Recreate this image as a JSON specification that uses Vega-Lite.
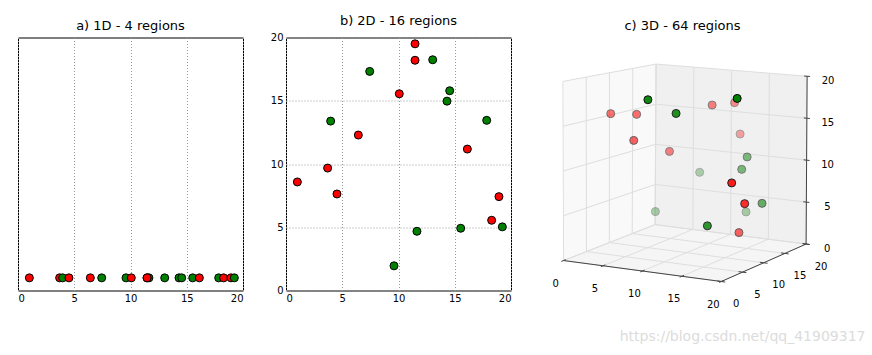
{
"$schema": "https://vega.github.io/schema/vega-lite/v6.json",
"padding": {"left": 17, "top": 13.5, "right": 0, "bottom": 0},
"spacing": 25,
"title": {"text": "https://blog.csdn.net/qq_41909317", "orient": "bottom", "anchor": "end", "fontSize": 14, "color": "#dcdcdc", "offset": 20, "dx": 31, "font": "DejaVu Sans", "fontWeight": "normal"},
"config": {
  "font": "DejaVu Sans",
  "view": {"stroke": "black", "strokeWidth": 1},
  "axis": {"labelFont": "DejaVu Sans", "labelFontSize": 10, "labelColor": "black", "ticks": false, "domain": false, "grid": true, "gridColor": "#999999", "gridDash": [1, 2], "gridWidth": 1, "labelPadding": 3},
  "title": {"font": "DejaVu Sans", "fontSize": 13, "fontWeight": "normal", "color": "black", "offset": 5}
},
"datasets": {
  "pts": [
    {"x": 1.01, "y": 8.58, "z": 15.45, "c": "r"},
    {"x": 3.70, "y": 9.68, "z": 15.45, "c": "r"},
    {"x": 3.97, "y": 13.39, "z": 3.43, "c": "g"},
    {"x": 4.53, "y": 7.63, "z": 12.78, "c": "r"},
    {"x": 6.43, "y": 12.29, "z": 10.99, "c": "r"},
    {"x": 7.44, "y": 17.32, "z": 7.77, "c": "g"},
    {"x": 9.60, "y": 1.95, "z": 18.47, "c": "g"},
    {"x": 10.07, "y": 15.55, "z": 16.33, "c": "r"},
    {"x": 11.64, "y": 4.68, "z": 16.8, "c": "g"},
    {"x": 11.47, "y": 19.5, "z": 12.43, "c": "r"},
    {"x": 11.47, "y": 18.2, "z": 16.39, "c": "r"},
    {"x": 13.04, "y": 18.24, "z": 3.43, "c": "g"},
    {"x": 14.31, "y": 14.97, "z": 9.2, "c": "g"},
    {"x": 14.55, "y": 15.79, "z": 10.55, "c": "g"},
    {"x": 15.53, "y": 4.92, "z": 4.63, "c": "g"},
    {"x": 16.12, "y": 11.18, "z": 2.75, "c": "r"},
    {"x": 17.84, "y": 13.45, "z": 5.86, "c": "g"},
    {"x": 18.28, "y": 5.55, "z": 9.54, "c": "r"},
    {"x": 18.93, "y": 7.42, "z": 7.0, "c": "r"},
    {"x": 19.23, "y": 5.03, "z": 18.99, "c": "g"}
  ],
  "box": [
    {"k": "pL", "x1": 0, "y1": 0, "z1": 0, "x2": 0, "y2": 0, "z2": 20},
    {"k": "pL", "x1": 0, "y1": 20, "z1": 0, "x2": 0, "y2": 20, "z2": 20},
    {"k": "pB", "x1": 0, "y1": 20, "z1": 0, "x2": 0, "y2": 20, "z2": 20},
    {"k": "pB", "x1": 20, "y1": 20, "z1": 0, "x2": 20, "y2": 20, "z2": 20},
    {"k": "pF", "x1": 0, "y1": 0, "z1": 0, "x2": 0, "y2": 0, "z2": 0},
    {"k": "pF", "x1": 11.6, "y1": 0, "z1": 0, "x2": 0, "y2": 20, "z2": 0},
    {"k": "pF", "x1": 20, "y1": 0, "z1": 0, "x2": 8.77, "y2": 20, "z2": 0},
    {"k": "pF", "x1": 20, "y1": 20, "z1": 0, "x2": 20, "y2": 20, "z2": 0},

    {"k": "g", "x1": 0, "y1": 0, "z1": 0, "x2": 0, "y2": 20, "z2": 0},
    {"k": "g", "x1": 5, "y1": 0, "z1": 0, "x2": 5, "y2": 20, "z2": 0},
    {"k": "g", "x1": 10, "y1": 0, "z1": 0, "x2": 10, "y2": 20, "z2": 0},
    {"k": "g", "x1": 15, "y1": 0, "z1": 0, "x2": 15, "y2": 20, "z2": 0},
    {"k": "g", "x1": 20, "y1": 0, "z1": 0, "x2": 20, "y2": 20, "z2": 0},
    {"k": "g", "x1": 0, "y1": 20, "z1": 0, "x2": 0, "y2": 20, "z2": 20},
    {"k": "g", "x1": 5, "y1": 20, "z1": 0, "x2": 5, "y2": 20, "z2": 20},
    {"k": "g", "x1": 10, "y1": 20, "z1": 0, "x2": 10, "y2": 20, "z2": 20},
    {"k": "g", "x1": 15, "y1": 20, "z1": 0, "x2": 15, "y2": 20, "z2": 20},
    {"k": "g", "x1": 20, "y1": 20, "z1": 0, "x2": 20, "y2": 20, "z2": 20},
    {"k": "g", "x1": 0, "y1": 0, "z1": 0, "x2": 20, "y2": 0, "z2": 0},
    {"k": "g", "x1": 0, "y1": 5, "z1": 0, "x2": 20, "y2": 5, "z2": 0},
    {"k": "g", "x1": 0, "y1": 10, "z1": 0, "x2": 20, "y2": 10, "z2": 0},
    {"k": "g", "x1": 0, "y1": 15, "z1": 0, "x2": 20, "y2": 15, "z2": 0},
    {"k": "g", "x1": 0, "y1": 20, "z1": 0, "x2": 20, "y2": 20, "z2": 0},
    {"k": "g", "x1": 0, "y1": 0, "z1": 0, "x2": 0, "y2": 0, "z2": 20},
    {"k": "g", "x1": 0, "y1": 5, "z1": 0, "x2": 0, "y2": 5, "z2": 20},
    {"k": "g", "x1": 0, "y1": 10, "z1": 0, "x2": 0, "y2": 10, "z2": 20},
    {"k": "g", "x1": 0, "y1": 15, "z1": 0, "x2": 0, "y2": 15, "z2": 20},
    {"k": "g", "x1": 0, "y1": 20, "z1": 0, "x2": 0, "y2": 20, "z2": 20},
    {"k": "g", "x1": 0, "y1": 0, "z1": 0, "x2": 0, "y2": 20, "z2": 0},
    {"k": "g", "x1": 0, "y1": 0, "z1": 5, "x2": 0, "y2": 20, "z2": 5},
    {"k": "g", "x1": 0, "y1": 0, "z1": 10, "x2": 0, "y2": 20, "z2": 10},
    {"k": "g", "x1": 0, "y1": 0, "z1": 15, "x2": 0, "y2": 20, "z2": 15},
    {"k": "g", "x1": 0, "y1": 0, "z1": 20, "x2": 0, "y2": 20, "z2": 20},
    {"k": "g", "x1": 0, "y1": 20, "z1": 0, "x2": 20, "y2": 20, "z2": 0},
    {"k": "g", "x1": 0, "y1": 20, "z1": 5, "x2": 20, "y2": 20, "z2": 5},
    {"k": "g", "x1": 0, "y1": 20, "z1": 10, "x2": 20, "y2": 20, "z2": 10},
    {"k": "g", "x1": 0, "y1": 20, "z1": 15, "x2": 20, "y2": 20, "z2": 15},
    {"k": "g", "x1": 0, "y1": 20, "z1": 20, "x2": 20, "y2": 20, "z2": 20},

    {"k": "a", "x1": 0, "y1": 0, "z1": 0, "x2": 20, "y2": 0, "z2": 0},
    {"k": "a", "x1": 20, "y1": 0, "z1": 0, "x2": 20, "y2": 20, "z2": 0},
    {"k": "a", "x1": 20, "y1": 20, "z1": 0, "x2": 20, "y2": 20, "z2": 20},
    {"k": "a", "x1": 0, "y1": -0.5, "z1": 0, "x2": 0, "y2": 0.5, "z2": 0},
    {"k": "a", "x1": 5, "y1": -0.5, "z1": 0, "x2": 5, "y2": 0.5, "z2": 0},
    {"k": "a", "x1": 10, "y1": -0.5, "z1": 0, "x2": 10, "y2": 0.5, "z2": 0},
    {"k": "a", "x1": 15, "y1": -0.5, "z1": 0, "x2": 15, "y2": 0.5, "z2": 0},
    {"k": "a", "x1": 20, "y1": -0.5, "z1": 0, "x2": 20, "y2": 0.5, "z2": 0},
    {"k": "a", "x1": 19.5, "y1": 0, "z1": 0, "x2": 20.5, "y2": 0, "z2": 0},
    {"k": "a", "x1": 19.5, "y1": 5, "z1": 0, "x2": 20.5, "y2": 5, "z2": 0},
    {"k": "a", "x1": 19.5, "y1": 10, "z1": 0, "x2": 20.5, "y2": 10, "z2": 0},
    {"k": "a", "x1": 19.5, "y1": 15, "z1": 0, "x2": 20.5, "y2": 15, "z2": 0},
    {"k": "a", "x1": 19.5, "y1": 20, "z1": 0, "x2": 20.5, "y2": 20, "z2": 0},
    {"k": "a", "x1": 19.6, "y1": 20, "z1": 0, "x2": 20.4, "y2": 20, "z2": 0},
    {"k": "a", "x1": 19.6, "y1": 20, "z1": 5, "x2": 20.4, "y2": 20, "z2": 5},
    {"k": "a", "x1": 19.6, "y1": 20, "z1": 10, "x2": 20.4, "y2": 20, "z2": 10},
    {"k": "a", "x1": 19.6, "y1": 20, "z1": 15, "x2": 20.4, "y2": 20, "z2": 15},
    {"k": "a", "x1": 19.6, "y1": 20, "z1": 20, "x2": 20.4, "y2": 20, "z2": 20},

    {"k": "lx", "t": "0", "x1": 0, "y1": 0, "z1": 0},
    {"k": "lx", "t": "5", "x1": 5, "y1": 0, "z1": 0},
    {"k": "lx", "t": "10", "x1": 10, "y1": 0, "z1": 0},
    {"k": "lx", "t": "15", "x1": 15, "y1": 0, "z1": 0},
    {"k": "lx", "t": "20", "x1": 20, "y1": 0, "z1": 0},
    {"k": "ly", "t": "0", "x1": 20, "y1": 0, "z1": 0},
    {"k": "ly", "t": "5", "x1": 20, "y1": 5, "z1": 0},
    {"k": "ly", "t": "10", "x1": 20, "y1": 10, "z1": 0},
    {"k": "ly", "t": "15", "x1": 20, "y1": 15, "z1": 0},
    {"k": "ly", "t": "20", "x1": 20, "y1": 20, "z1": 0},
    {"k": "lz", "t": "0", "x1": 20, "y1": 20, "z1": 0},
    {"k": "lz", "t": "5", "x1": 20, "y1": 20, "z1": 5},
    {"k": "lz", "t": "10", "x1": 20, "y1": 20, "z1": 10},
    {"k": "lz", "t": "15", "x1": 20, "y1": 20, "z1": 15},
    {"k": "lz", "t": "20", "x1": 20, "y1": 20, "z1": 20}
  ]
},
"hconcat": [
  {
    "width": 225, "height": 253,
    "title": "a) 1D - 4 regions",
    "data": {"name": "pts"},
    "mark": {"type": "circle", "size": 64, "stroke": "black", "strokeWidth": 1, "opacity": 1},
    "encoding": {
      "x": {"field": "x", "type": "quantitative", "scale": {"domain": [0, 20], "nice": false, "zero": false}, "axis": {"values": [0, 5, 10, 15, 20], "title": null}},
      "y": {"datum": 1, "type": "quantitative", "scale": {"domain": [0, 20], "nice": false}, "axis": null},
      "color": {"field": "c", "type": "nominal", "scale": {"domain": ["r", "g"], "range": ["#ff0000", "#008000"]}, "legend": null}
    }
  },
  {
    "width": 225, "height": 253,
    "title": "b) 2D - 16 regions",
    "data": {"name": "pts"},
    "mark": {"type": "circle", "size": 64, "stroke": "black", "strokeWidth": 1, "opacity": 1},
    "encoding": {
      "x": {"field": "x", "type": "quantitative", "scale": {"domain": [0, 20], "nice": false, "zero": false}, "axis": {"values": [0, 5, 10, 15, 20], "title": null}},
      "y": {"field": "y", "type": "quantitative", "scale": {"domain": [0, 20], "nice": false, "zero": false}, "axis": {"values": [0, 5, 10, 15, 20], "title": null}},
      "color": {"field": "c", "type": "nominal", "scale": {"domain": ["r", "g"], "range": ["#ff0000", "#008000"]}, "legend": null}
    }
  },
  {
    "width": 291, "height": 253,
    "title": "c) 3D - 64 regions",
    "view": {"stroke": null},
    "layer": [
      {
        "data": {"name": "box"},
        "transform": [
          {"filter": "indexof(datum.k, 'p') == 0"},
          {"calculate": "564+7.885*datum.x1+4.575*datum.y1-0.01675*datum.x1*datum.y1+datum.z1/20*(-0.7+0.06*datum.x1+0.085*datum.y1-0.003*datum.x1*datum.y1)", "as": "u1"},
          {"calculate": "261+1.05*datum.x1-1.8*datum.y1-0.00375*datum.x1*datum.y1+datum.z1/20*(-179.3-0.41*datum.x1+0.93*datum.y1+0.00225*datum.x1*datum.y1)", "as": "v1"},
          {"calculate": "261+1.05*datum.x2-1.8*datum.y2-0.00375*datum.x2*datum.y2+datum.z2/20*(-179.3-0.41*datum.x2+0.93*datum.y2+0.00225*datum.x2*datum.y2)", "as": "v2"}
        ],
        "mark": {"type": "area", "orient": "vertical", "strokeWidth": 0},
        "encoding": {
          "x": {"field": "u1", "type": "quantitative", "scale": {"domain": [537.4, 828.4], "nice": false, "zero": false}, "axis": null},
          "y": {"field": "v1", "type": "quantitative", "stack": null, "scale": {"domain": [37.7, 291], "nice": false, "zero": false, "reverse": true}, "axis": null},
          "y2": {"field": "v2"},
          "fill": {"field": "k", "type": "nominal", "scale": {"domain": ["pL", "pB", "pF"], "range": ["#f9f9f9", "#f0f0f0", "#f5f5f5"]}, "legend": null}
        }
      },
      {
        "data": {"name": "box"},
        "transform": [
          {"filter": "datum.k == 'g'"},
          {"calculate": "564+7.885*datum.x1+4.575*datum.y1-0.01675*datum.x1*datum.y1+datum.z1/20*(-0.7+0.06*datum.x1+0.085*datum.y1-0.003*datum.x1*datum.y1)", "as": "u1"},
          {"calculate": "261+1.05*datum.x1-1.8*datum.y1-0.00375*datum.x1*datum.y1+datum.z1/20*(-179.3-0.41*datum.x1+0.93*datum.y1+0.00225*datum.x1*datum.y1)", "as": "v1"},
          {"calculate": "564+7.885*datum.x2+4.575*datum.y2-0.01675*datum.x2*datum.y2+datum.z2/20*(-0.7+0.06*datum.x2+0.085*datum.y2-0.003*datum.x2*datum.y2)", "as": "u2"},
          {"calculate": "261+1.05*datum.x2-1.8*datum.y2-0.00375*datum.x2*datum.y2+datum.z2/20*(-179.3-0.41*datum.x2+0.93*datum.y2+0.00225*datum.x2*datum.y2)", "as": "v2"}
        ],
        "mark": {"type": "rule", "color": "#dedede", "strokeWidth": 1},
        "encoding": {
          "x": {"field": "u1", "type": "quantitative", "scale": {"domain": [537.4, 828.4], "nice": false, "zero": false}, "axis": null},
          "y": {"field": "v1", "type": "quantitative", "scale": {"domain": [37.7, 291], "nice": false, "zero": false, "reverse": true}, "axis": null},
          "x2": {"field": "u2"},
          "y2": {"field": "v2"}
        }
      },
      {
        "data": {"name": "box"},
        "transform": [
          {"filter": "datum.k == 'a'"},
          {"calculate": "564+7.885*datum.x1+4.575*datum.y1-0.01675*datum.x1*datum.y1+datum.z1/20*(-0.7+0.06*datum.x1+0.085*datum.y1-0.003*datum.x1*datum.y1)", "as": "u1"},
          {"calculate": "261+1.05*datum.x1-1.8*datum.y1-0.00375*datum.x1*datum.y1+datum.z1/20*(-179.3-0.41*datum.x1+0.93*datum.y1+0.00225*datum.x1*datum.y1)", "as": "v1"},
          {"calculate": "564+7.885*datum.x2+4.575*datum.y2-0.01675*datum.x2*datum.y2+datum.z2/20*(-0.7+0.06*datum.x2+0.085*datum.y2-0.003*datum.x2*datum.y2)", "as": "u2"},
          {"calculate": "261+1.05*datum.x2-1.8*datum.y2-0.00375*datum.x2*datum.y2+datum.z2/20*(-179.3-0.41*datum.x2+0.93*datum.y2+0.00225*datum.x2*datum.y2)", "as": "v2"}
        ],
        "mark": {"type": "rule", "color": "#444444", "strokeWidth": 1},
        "encoding": {
          "x": {"field": "u1", "type": "quantitative", "scale": {"domain": [537.4, 828.4], "nice": false, "zero": false}, "axis": null},
          "y": {"field": "v1", "type": "quantitative", "scale": {"domain": [37.7, 291], "nice": false, "zero": false, "reverse": true}, "axis": null},
          "x2": {"field": "u2"},
          "y2": {"field": "v2"}
        }
      },
      {
        "data": {"name": "pts"},
        "transform": [
          {"calculate": "564+7.885*datum.x+4.575*datum.y-0.01675*datum.x*datum.y+datum.z/20*(-0.7+0.06*datum.x+0.085*datum.y-0.003*datum.x*datum.y)", "as": "u"},
          {"calculate": "261+1.05*datum.x-1.8*datum.y-0.00375*datum.x*datum.y+datum.z/20*(-179.3-0.41*datum.x+0.93*datum.y+0.00225*datum.x*datum.y)", "as": "v"},
          {"calculate": "0.455*datum.x-0.857*datum.y+0.242*datum.z", "as": "near"}
        ],
        "mark": {"type": "circle", "size": 64, "stroke": "black", "strokeWidth": 1},
        "encoding": {
          "x": {"field": "u", "type": "quantitative", "scale": {"domain": [537.4, 828.4], "nice": false, "zero": false}, "axis": null},
          "y": {"field": "v", "type": "quantitative", "scale": {"domain": [37.7, 291], "nice": false, "zero": false, "reverse": true}, "axis": null},
          "color": {"field": "c", "type": "nominal", "scale": {"domain": ["r", "g"], "range": ["#ff0000", "#008000"]}, "legend": null},
          "opacity": {"field": "near", "type": "quantitative", "scale": {"range": [0.3, 1], "zero": false, "nice": false}, "legend": null}
        }
      },
      {
        "data": {"name": "box"},
        "transform": [
          {"filter": "datum.k == 'lx'"},
          {"calculate": "564+7.885*datum.x1+4.575*datum.y1-0.01675*datum.x1*datum.y1+datum.z1/20*(-0.7+0.06*datum.x1+0.085*datum.y1-0.003*datum.x1*datum.y1)", "as": "u1"},
          {"calculate": "261+1.05*datum.x1-1.8*datum.y1-0.00375*datum.x1*datum.y1+datum.z1/20*(-179.3-0.41*datum.x1+0.93*datum.y1+0.00225*datum.x1*datum.y1)", "as": "v1"}
        ],
        "mark": {"type": "text", "fontSize": 10, "font": "DejaVu Sans", "color": "black", "dx": -8, "dy": 23, "baseline": "middle", "align": "center"},
        "encoding": {
          "x": {"field": "u1", "type": "quantitative", "scale": {"domain": [537.4, 828.4], "nice": false, "zero": false}, "axis": null},
          "y": {"field": "v1", "type": "quantitative", "scale": {"domain": [37.7, 291], "nice": false, "zero": false, "reverse": true}, "axis": null},
          "text": {"field": "t"}
        }
      },
      {
        "data": {"name": "box"},
        "transform": [
          {"filter": "datum.k == 'ly'"},
          {"calculate": "564+7.885*datum.x1+4.575*datum.y1-0.01675*datum.x1*datum.y1+datum.z1/20*(-0.7+0.06*datum.x1+0.085*datum.y1-0.003*datum.x1*datum.y1)", "as": "u1"},
          {"calculate": "261+1.05*datum.x1-1.8*datum.y1-0.00375*datum.x1*datum.y1+datum.z1/20*(-179.3-0.41*datum.x1+0.93*datum.y1+0.00225*datum.x1*datum.y1)", "as": "v1"}
        ],
        "mark": {"type": "text", "fontSize": 10, "font": "DejaVu Sans", "color": "black", "dx": 15, "dy": 22.5, "baseline": "middle", "align": "center"},
        "encoding": {
          "x": {"field": "u1", "type": "quantitative", "scale": {"domain": [537.4, 828.4], "nice": false, "zero": false}, "axis": null},
          "y": {"field": "v1", "type": "quantitative", "scale": {"domain": [37.7, 291], "nice": false, "zero": false, "reverse": true}, "axis": null},
          "text": {"field": "t"}
        }
      },
      {
        "data": {"name": "box"},
        "transform": [
          {"filter": "datum.k == 'lz'"},
          {"calculate": "564+7.885*datum.x1+4.575*datum.y1-0.01675*datum.x1*datum.y1+datum.z1/20*(-0.7+0.06*datum.x1+0.085*datum.y1-0.003*datum.x1*datum.y1)", "as": "u1"},
          {"calculate": "261+1.05*datum.x1-1.8*datum.y1-0.00375*datum.x1*datum.y1+datum.z1/20*(-179.3-0.41*datum.x1+0.93*datum.y1+0.00225*datum.x1*datum.y1)", "as": "v1"}
        ],
        "mark": {"type": "text", "fontSize": 10, "font": "DejaVu Sans", "color": "black", "dx": 21, "dy": 4.5, "baseline": "middle", "align": "center"},
        "encoding": {
          "x": {"field": "u1", "type": "quantitative", "scale": {"domain": [537.4, 828.4], "nice": false, "zero": false}, "axis": null},
          "y": {"field": "v1", "type": "quantitative", "scale": {"domain": [37.7, 291], "nice": false, "zero": false, "reverse": true}, "axis": null},
          "text": {"field": "t"}
        }
      }
    ]
  }
]
}
